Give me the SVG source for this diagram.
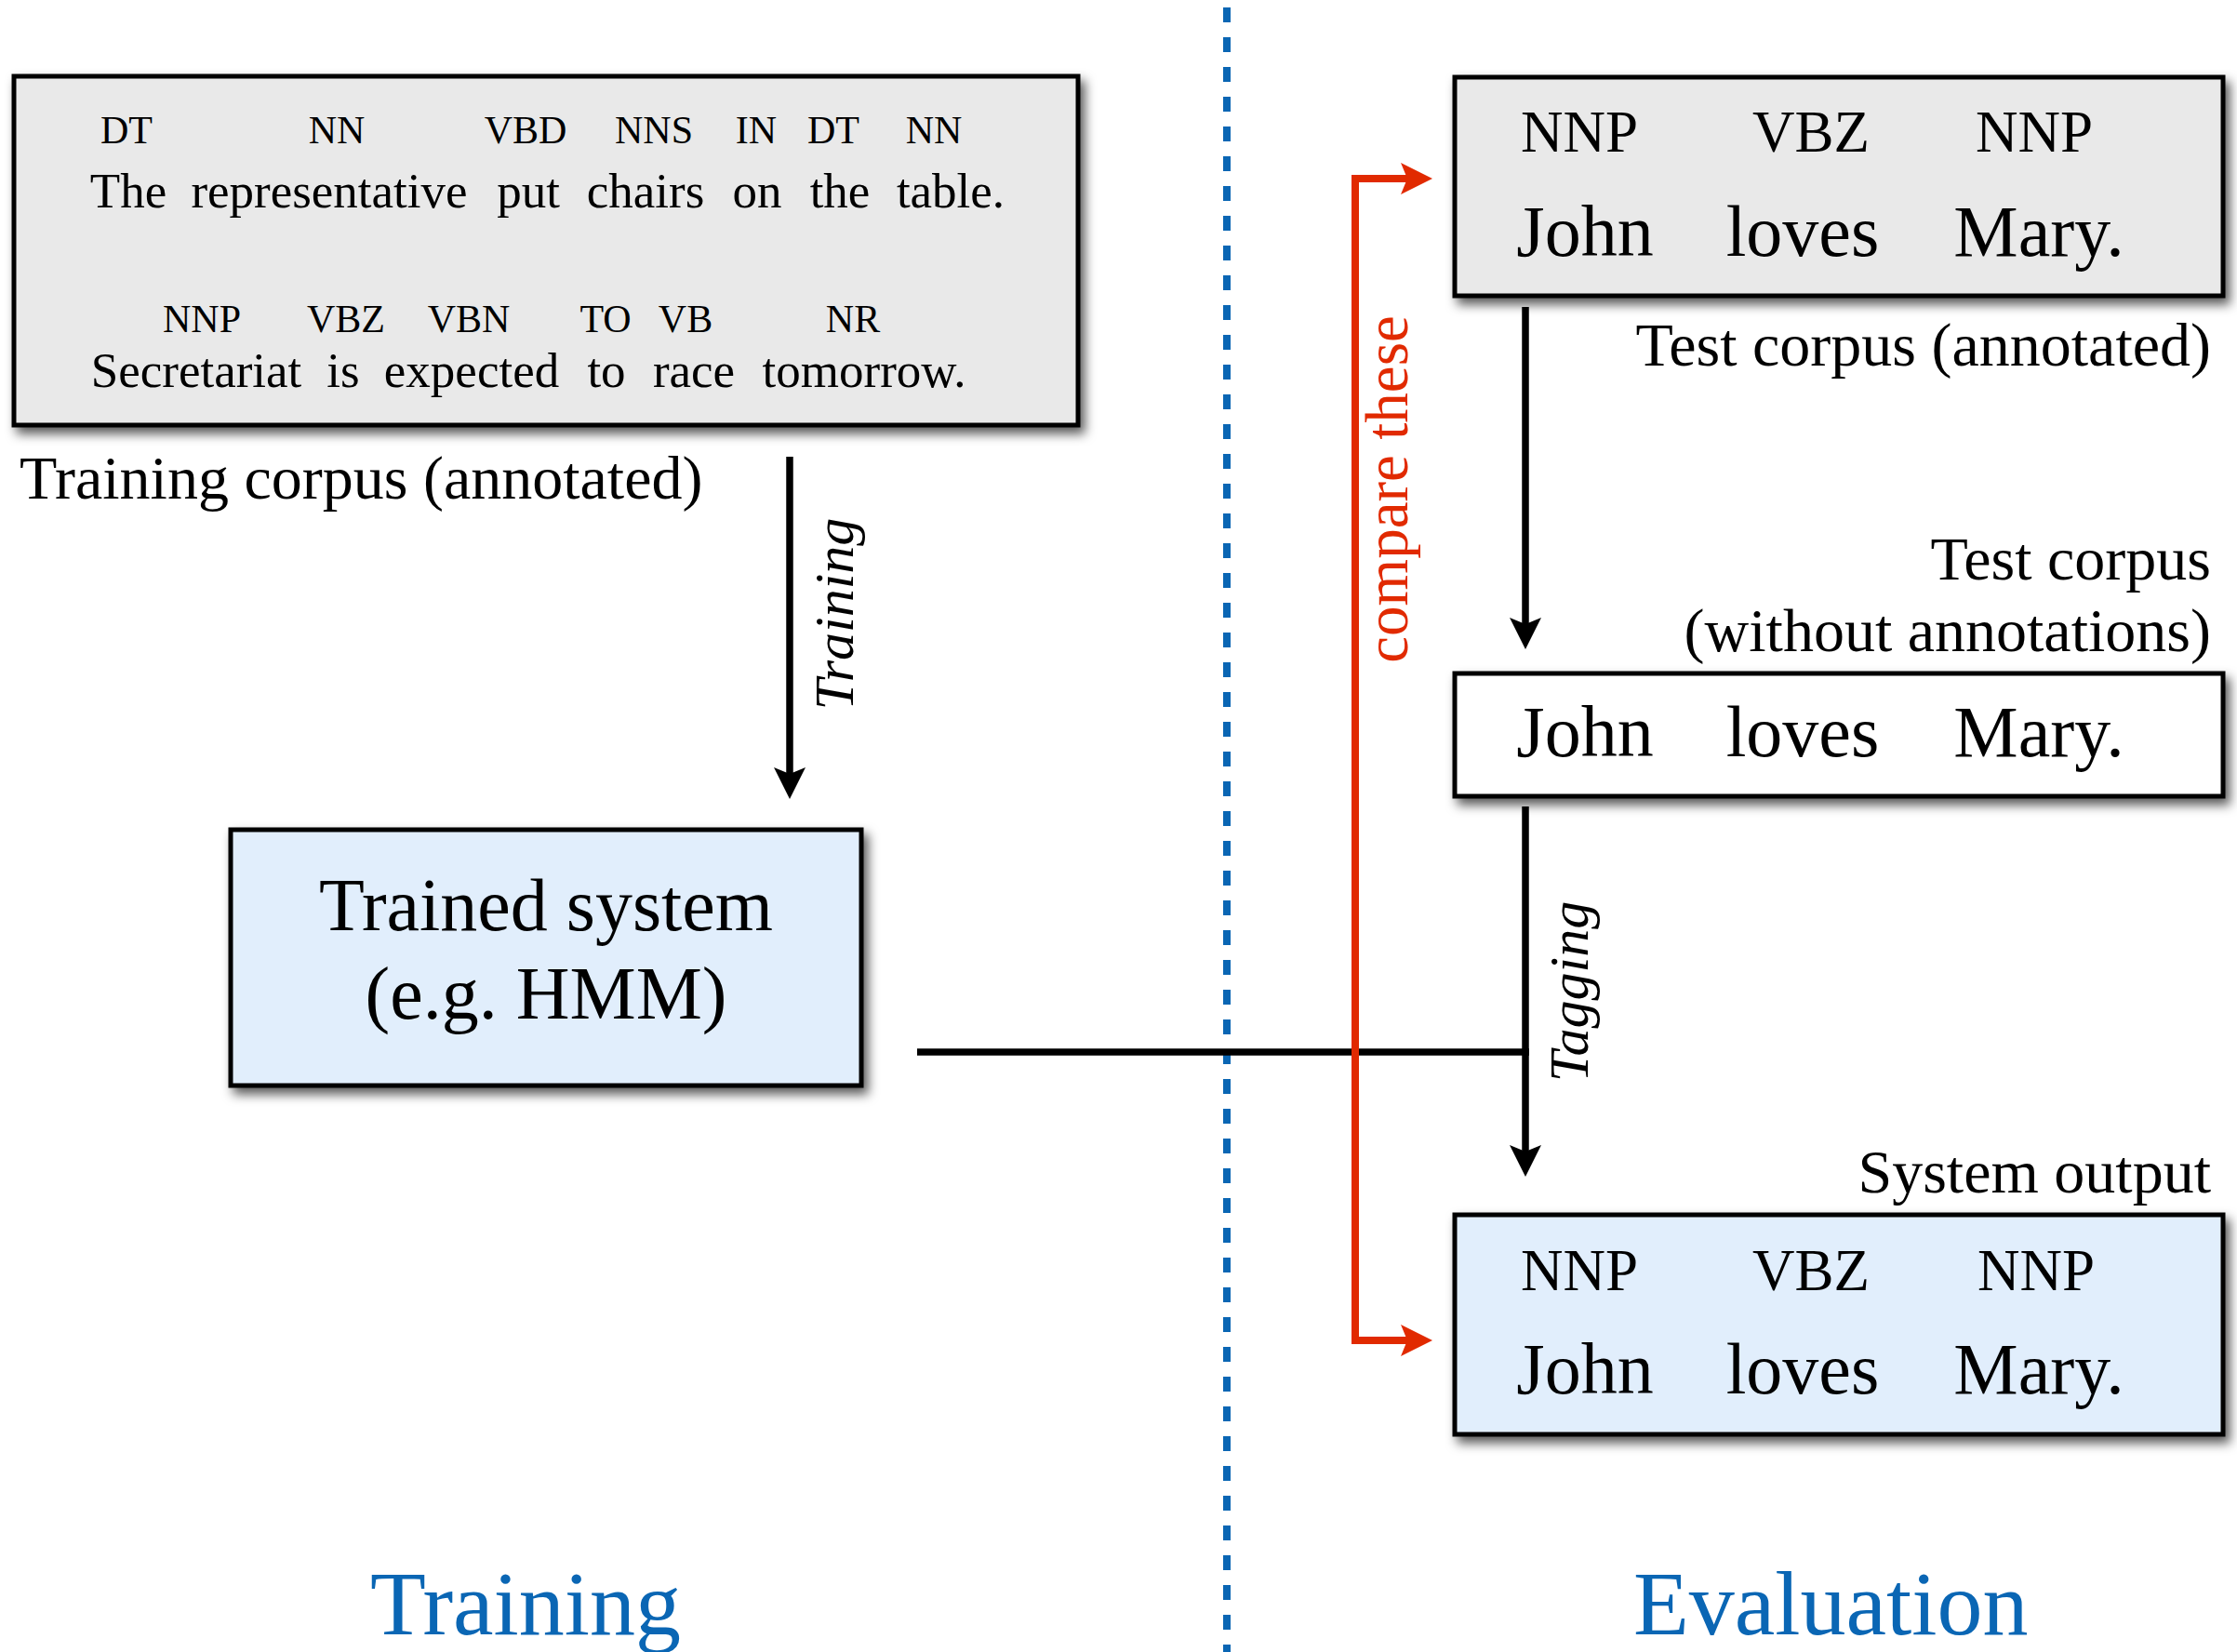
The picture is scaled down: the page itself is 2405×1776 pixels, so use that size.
<svg xmlns="http://www.w3.org/2000/svg" width="2405" height="1776" viewBox="0 0 2405 1776">
<style>
text { font-family: "Liberation Serif", "Times New Roman", serif; fill: #000; }
.box { stroke: #000; stroke-width: 5; filter: url(#sh); }
.gray { fill: #e9e9e9; }
.blue { fill: #e1eefc; }
.white { fill: #ffffff; }
.tagS { font-size: 42px; text-anchor: middle; }
.wordS { font-size: 53px; text-anchor: middle; }
.tagL { font-size: 63px; text-anchor: middle; }
.wordL { font-size: 78px; text-anchor: middle; }
.lbl { font-size: 66px; }
.arr { stroke: #000; stroke-width: 7.5; fill: none; }
.red { stroke: #e12a00; stroke-width: 8; fill: none; }
.ital { font-size: 60px; font-style: italic; text-anchor: middle; }
.sect { font-size: 98px; fill: #0a66b4; }
</style>
<defs>
<filter id="sh" x="-10%" y="-10%" width="125%" height="130%">
<feDropShadow dx="5" dy="7" stdDeviation="6" flood-color="#000" flood-opacity="0.65"/>
</filter>
<marker id="ah" markerUnits="userSpaceOnUse" markerWidth="40" markerHeight="40" viewBox="0 -20 40 40" refX="7" refY="0" orient="auto">
<path d="M34,0 L0,-17 L7,0 L0,17 Z" fill="#000"/>
</marker>
<marker id="ahr" markerUnits="userSpaceOnUse" markerWidth="40" markerHeight="40" viewBox="0 -20 40 40" refX="7" refY="0" orient="auto-start-reverse">
<path d="M34,0 L0,-17 L7,0 L0,17 Z" fill="#e12a00"/>
</marker>
</defs>
<rect width="2405" height="1776" fill="#fff"/>

<g id="divider">
<line x1="1319" y1="8" x2="1319" y2="1776" stroke="#0a66b4" stroke-width="8" stroke-dasharray="16 16"/>
</g>

<g id="connectors">
<line class="arr" x1="849" y1="491" x2="849" y2="832" marker-end="url(#ah)"/>
<line class="arr" x1="1640" y1="330" x2="1640" y2="671" marker-end="url(#ah)"/>
<line class="arr" x1="1640" y1="867" x2="1640" y2="1238" marker-end="url(#ah)"/>
<line class="arr" x1="986" y1="1131" x2="1644" y2="1131"/>
<path class="red" d="M1513,192 H1457 V1441 H1513" marker-start="url(#ahr)" marker-end="url(#ahr)"/>
<text class="ital" transform="translate(917,660) rotate(-90)">Training</text>
<text class="ital" transform="translate(1707,1066) rotate(-90)">Tagging</text>
<text transform="translate(1513,526) rotate(-90)" style="font-size:65px;fill:#e12a00;text-anchor:middle">compare these</text>
</g>

<g id="training-corpus">
<rect class="box gray" x="15" y="82" width="1144" height="375"/>
<text class="tagS" x="136" y="154">DT</text>
<text class="tagS" x="362" y="154">NN</text>
<text class="tagS" x="565" y="154">VBD</text>
<text class="tagS" x="703" y="154">NNS</text>
<text class="tagS" x="813" y="154">IN</text>
<text class="tagS" x="896" y="154">DT</text>
<text class="tagS" x="1004" y="154">NN</text>
<text class="wordS" x="138" y="223">The</text>
<text class="wordS" x="354" y="223">representative</text>
<text class="wordS" x="568" y="223">put</text>
<text class="wordS" x="694" y="223">chairs</text>
<text class="wordS" x="814" y="223">on</text>
<text class="wordS" x="903" y="223">the</text>
<text class="wordS" x="1022" y="223">table.</text>
<text class="tagS" x="217" y="357">NNP</text>
<text class="tagS" x="372" y="357">VBZ</text>
<text class="tagS" x="504" y="357">VBN</text>
<text class="tagS" x="651" y="357">TO</text>
<text class="tagS" x="737" y="357">VB</text>
<text class="tagS" x="917" y="357">NR</text>
<text class="wordS" x="211" y="416">Secretariat</text>
<text class="wordS" x="369" y="416">is</text>
<text class="wordS" x="507" y="416">expected</text>
<text class="wordS" x="652" y="416">to</text>
<text class="wordS" x="746" y="416">race</text>
<text class="wordS" x="929" y="416">tomorrow.</text>
<text class="lbl" x="21" y="536">Training corpus (annotated)</text>
</g>

<g id="trained-system">
<rect class="box blue" x="248" y="892" width="678" height="275"/>
<text x="587" y="1000" style="font-size:80px;text-anchor:middle">Trained system</text>
<text x="587" y="1095" style="font-size:80px;text-anchor:middle">(e.g. HMM)</text>
</g>

<g id="test-annotated">
<rect class="box gray" x="1564" y="83" width="826" height="235"/>
<text class="tagL" x="1698" y="163">NNP</text>
<text class="tagL" x="1947" y="163">VBZ</text>
<text class="tagL" x="2187" y="163">NNP</text>
<text class="wordL" x="1704" y="275">John</text>
<text class="wordL" x="1938" y="275">loves</text>
<text class="wordL" x="2192" y="275">Mary.</text>
<text class="lbl" x="2377" y="393" text-anchor="end">Test corpus (annotated)</text>
</g>

<g id="test-plain">
<text class="lbl" x="2377" y="623" text-anchor="end">Test corpus</text>
<text class="lbl" x="2377" y="700" text-anchor="end">(without annotations)</text>
<rect class="box white" x="1564" y="724" width="826" height="132"/>
<text class="wordL" x="1704" y="813">John</text>
<text class="wordL" x="1938" y="813">loves</text>
<text class="wordL" x="2192" y="813">Mary.</text>
</g>

<g id="system-output">
<text class="lbl" x="2377" y="1282" text-anchor="end">System output</text>
<rect class="box blue" x="1564" y="1306" width="826" height="236"/>
<text class="tagL" x="1698" y="1387">NNP</text>
<text class="tagL" x="1947" y="1387">VBZ</text>
<text class="tagL" x="2189" y="1387">NNP</text>
<text class="wordL" x="1704" y="1498">John</text>
<text class="wordL" x="1938" y="1498">loves</text>
<text class="wordL" x="2192" y="1498">Mary.</text>
</g>

<g id="section-labels">
<text class="sect" x="398" y="1757">Training</text>
<text class="sect" x="1756" y="1757">Evaluation</text>
</g>
</svg>
